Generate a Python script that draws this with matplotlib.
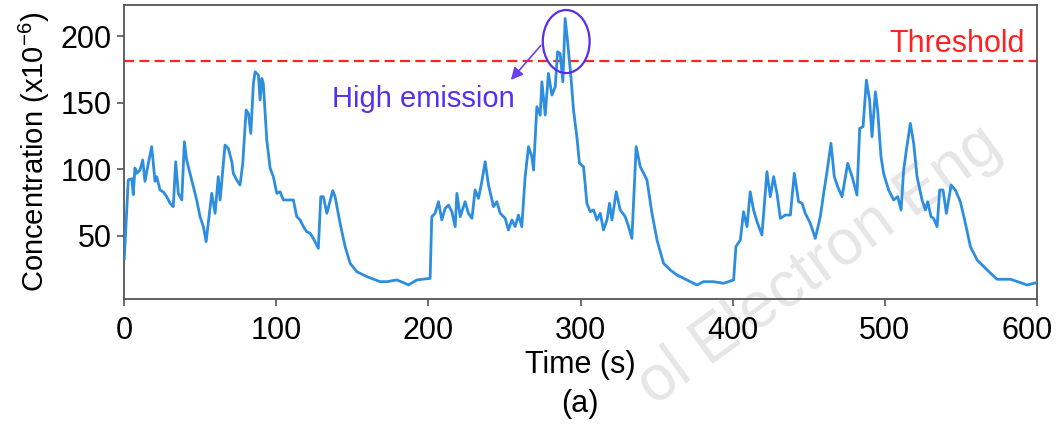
import numpy as np
import matplotlib
matplotlib.use("Agg")
import matplotlib.pyplot as plt
import matplotlib.transforms as mtransforms
from matplotlib.patches import Ellipse

plt.rcParams["font.family"] = ["Liberation Sans", "DejaVu Sans"]
plt.rcParams["mathtext.fontset"] = "custom"
plt.rcParams["mathtext.rm"] = "Liberation Sans"
plt.rcParams["mathtext.default"] = "regular"

# concentration trace (time s, value x1e-6)
time_s = [
    0, 2.6, 4.9, 5.9, 7.0, 8.2, 10.3, 12.1, 13.6, 15.8, 18.0, 20.2, 21.3, 23.5, 25.7,
    27.9, 30.1, 32.2, 33.8, 35.5, 37.8, 39.5, 41.0, 43.2, 45.4, 47.6, 49.8, 52.0, 53.8,
    55.3, 57.5, 59.7, 61.8, 63.0, 64.1, 66.2, 68.4, 70.7, 71.7, 73.9, 76.1, 77.9, 80.1,
    81.6, 83.2, 84.9, 86.0, 88.2, 89.3, 90.4, 91.4, 93.7, 95.9, 98.0, 100.3, 102.4,
    104.6, 111.2, 113.4, 115.6, 117.8, 120.0, 122.2, 124.3, 127.6, 129.2, 130.9, 133.2,
    137.1, 138.6, 141.9, 145.2, 148.5, 152.9, 159.5, 168.2, 172.6, 179.2, 183.6, 186.8,
    192.4, 201.1, 202.2, 204.4, 206.6, 208.8, 211.0, 213.2, 215.4, 217.6, 218.7, 220.9,
    224.1, 226.3, 228.6, 230.7, 232.9, 235.1, 237.3, 239.5, 242.8, 245.0, 247.2, 250.5,
    252.6, 254.9, 257.0, 259.2, 261.4, 263.6, 265.8, 268.0, 269.1, 271.3, 273.5, 274.6,
    276.8, 278.9, 281.2, 283.4, 284.9, 286.6, 288.4, 289.9, 291.4, 293.7, 295.4, 297.6,
    299.3, 302.0, 304.2, 306.4, 308.6, 310.8, 313.0, 315.1, 317.4, 319.1, 320.7, 323.5,
    326.1, 329.4, 331.6, 333.8, 336.6, 339.3, 343.7, 347.0, 350.3, 354.6, 359.0, 363.4,
    370.0, 376.6, 380.9, 387.5, 394.1, 400.7, 402.2, 405.1, 407.2, 409.5, 411.6, 413.8,
    416.1, 419.3, 422.6, 424.8, 427.0, 429.2, 431.4, 434.7, 438.0, 440.6, 443.4, 445.7,
    447.8, 451.1, 454.4, 457.7, 459.9, 462.1, 464.7, 466.9, 469.1, 472.0, 475.7, 478.6,
    481.8, 483.6, 485.8, 488.0, 490.1, 491.7, 493.9, 495.4, 497.6, 499.3, 502.6, 505.9,
    508.6, 510.8, 512.5, 514.3, 516.9, 519.1, 521.3, 524.6, 526.8, 528.3, 530.5, 532.2,
    534.5, 536.2, 538.4, 540.6, 543.7, 546.5, 549.8, 553.1, 556.4, 560.8, 567.4, 573.9,
    582.7, 589.3, 593.7, 600.0,
]
conc = [
    33, 92, 93, 81, 101, 97, 99.5, 107, 91, 104.5, 117, 91, 94.5, 84.5, 83,
    79.5, 74.5, 72, 105.7, 82, 77, 120.7, 107, 97, 87, 77, 64.5, 57, 45.7,
    60.7, 82, 67, 94.5, 77, 90.8, 118.2, 115.7, 105.7, 97, 92, 88.2, 104.5, 144.5,
    142, 127, 164.5, 173.2, 170.7, 152, 168.2, 164.5, 122, 100.8, 94.5, 82, 83.2,
    77, 77, 64.5, 62, 57, 53.2, 52, 48.2, 40.7, 79.5, 79.5, 67,
    84, 79.5, 59.5, 42, 29.5, 23.2, 19.5, 15.7, 15.7, 17, 15, 13.2,
    17, 18.2, 64.5, 67, 75.7, 62, 70.7, 73.2, 68.2, 57, 82, 64.5,
    75.7, 67, 63.2, 84.5, 78.2, 90.8, 105.7, 88.2, 72, 75.7, 67, 63.2,
    54.5, 62, 57, 65.7, 57, 94.5, 117, 109.5, 99.5, 147, 140.7, 165.7,
    140.7, 172, 155.7, 162, 188.2, 187, 165.7, 213.2, 197, 169.5, 144.5, 124.5,
    104.5, 102, 74.5, 68.2, 69.5, 62, 67, 54.5, 62, 74.5, 62, 83.2,
    69.5, 64.5, 57, 48.2, 117, 102, 92, 67, 47, 29.5, 24.5, 20.7,
    17, 13.2, 15.7, 15.7, 14.5, 17, 42, 47, 68.2, 57, 83.2, 69.5,
    60.7, 50.7, 98.2, 79.5, 94.5, 82, 63.2, 65.7, 65.7, 97, 75.7, 74.5,
    67, 59.5, 48.2, 64.5, 82, 98.2, 119.5, 94.5, 87, 79.5, 104.5, 94.5,
    80.7, 130.7, 132, 167, 152, 124.5, 158.2, 144.5, 109.5, 97, 84.5, 77,
    79.5, 69.5, 99.5, 114.5, 134.5, 119.5, 94.5, 77, 69.5, 75.7, 64.5, 63.2,
    57, 84.5, 84.5, 67, 88.2, 84.5, 75.7, 59.5, 42, 32, 24.5, 17.5,
    17.5, 15, 13.2, 15,
]
threshold = 181
x_ticks = [0, 100, 200, 300, 400, 500, 600]
y_ticks = [50, 100, 150, 200]

fig = plt.figure(figsize=(10.57, 4.28), dpi=100)
ax = fig.add_axes([0.1176, 0.3014, 0.8632, 0.6869])
ax.patch.set_alpha(0)

# faint watermark from the source image
fig.text(0.775, 0.38, "ol Electron Eng", fontsize=46, color="#e6e6e6",
         rotation=36, ha="center", va="center", zorder=-1)

ax.plot(time_s, conc, color="#2d8ddf", lw=2.0, zorder=3)
ax.axhline(threshold, color="#ff2222", lw=1.6, ls=(0, (4.5, 2.4)), zorder=2)
ax.text(592, 188, "Threshold", color="#ff2222", fontsize=22, ha="right", va="baseline")

ax.add_patch(Ellipse((290.6, 195.9), 30.8, 47.3, fill=False, ec="#5a2ee6", lw=1.6, zorder=4))
ax.annotate("", xy=(253, 165.5), xytext=(275.1, 194.5),
            arrowprops=dict(arrowstyle="-|>", color="#6a40f0", lw=1.2, mutation_scale=18))
ax.text(136.6, 147, "High emission", color="#5530ee", fontsize=21, ha="left", va="baseline")

ax.set_xlim(0, 600)
ax.set_ylim(2.7, 223.3)
ax.set_xticks(x_ticks)
ax.set_yticks(y_ticks)
ax.tick_params(labelsize=22, length=5, width=1.2, color="#555555", pad=4)
ax.tick_params(axis="x", pad=7)
for s in ax.spines.values():
    s.set_color("#555555")
    s.set_linewidth(1.3)

# last x label sits a little left of its tick, as in the reference
lab = ax.get_xticklabels()[-1]
lab.set_transform(lab.get_transform() + mtransforms.ScaledTranslation(-10 / 100, 0, fig.dpi_scale_trans))

ax.set_xlabel("Time (s)", fontsize=22, labelpad=3)
ax.set_ylabel("Concentration (x10$^{-6}$)", fontsize=21, labelpad=6)
fig.text(0.549, 0.02, "(a)", fontsize=22, ha="center", va="bottom")

fig.savefig("out.png", dpi=100)
